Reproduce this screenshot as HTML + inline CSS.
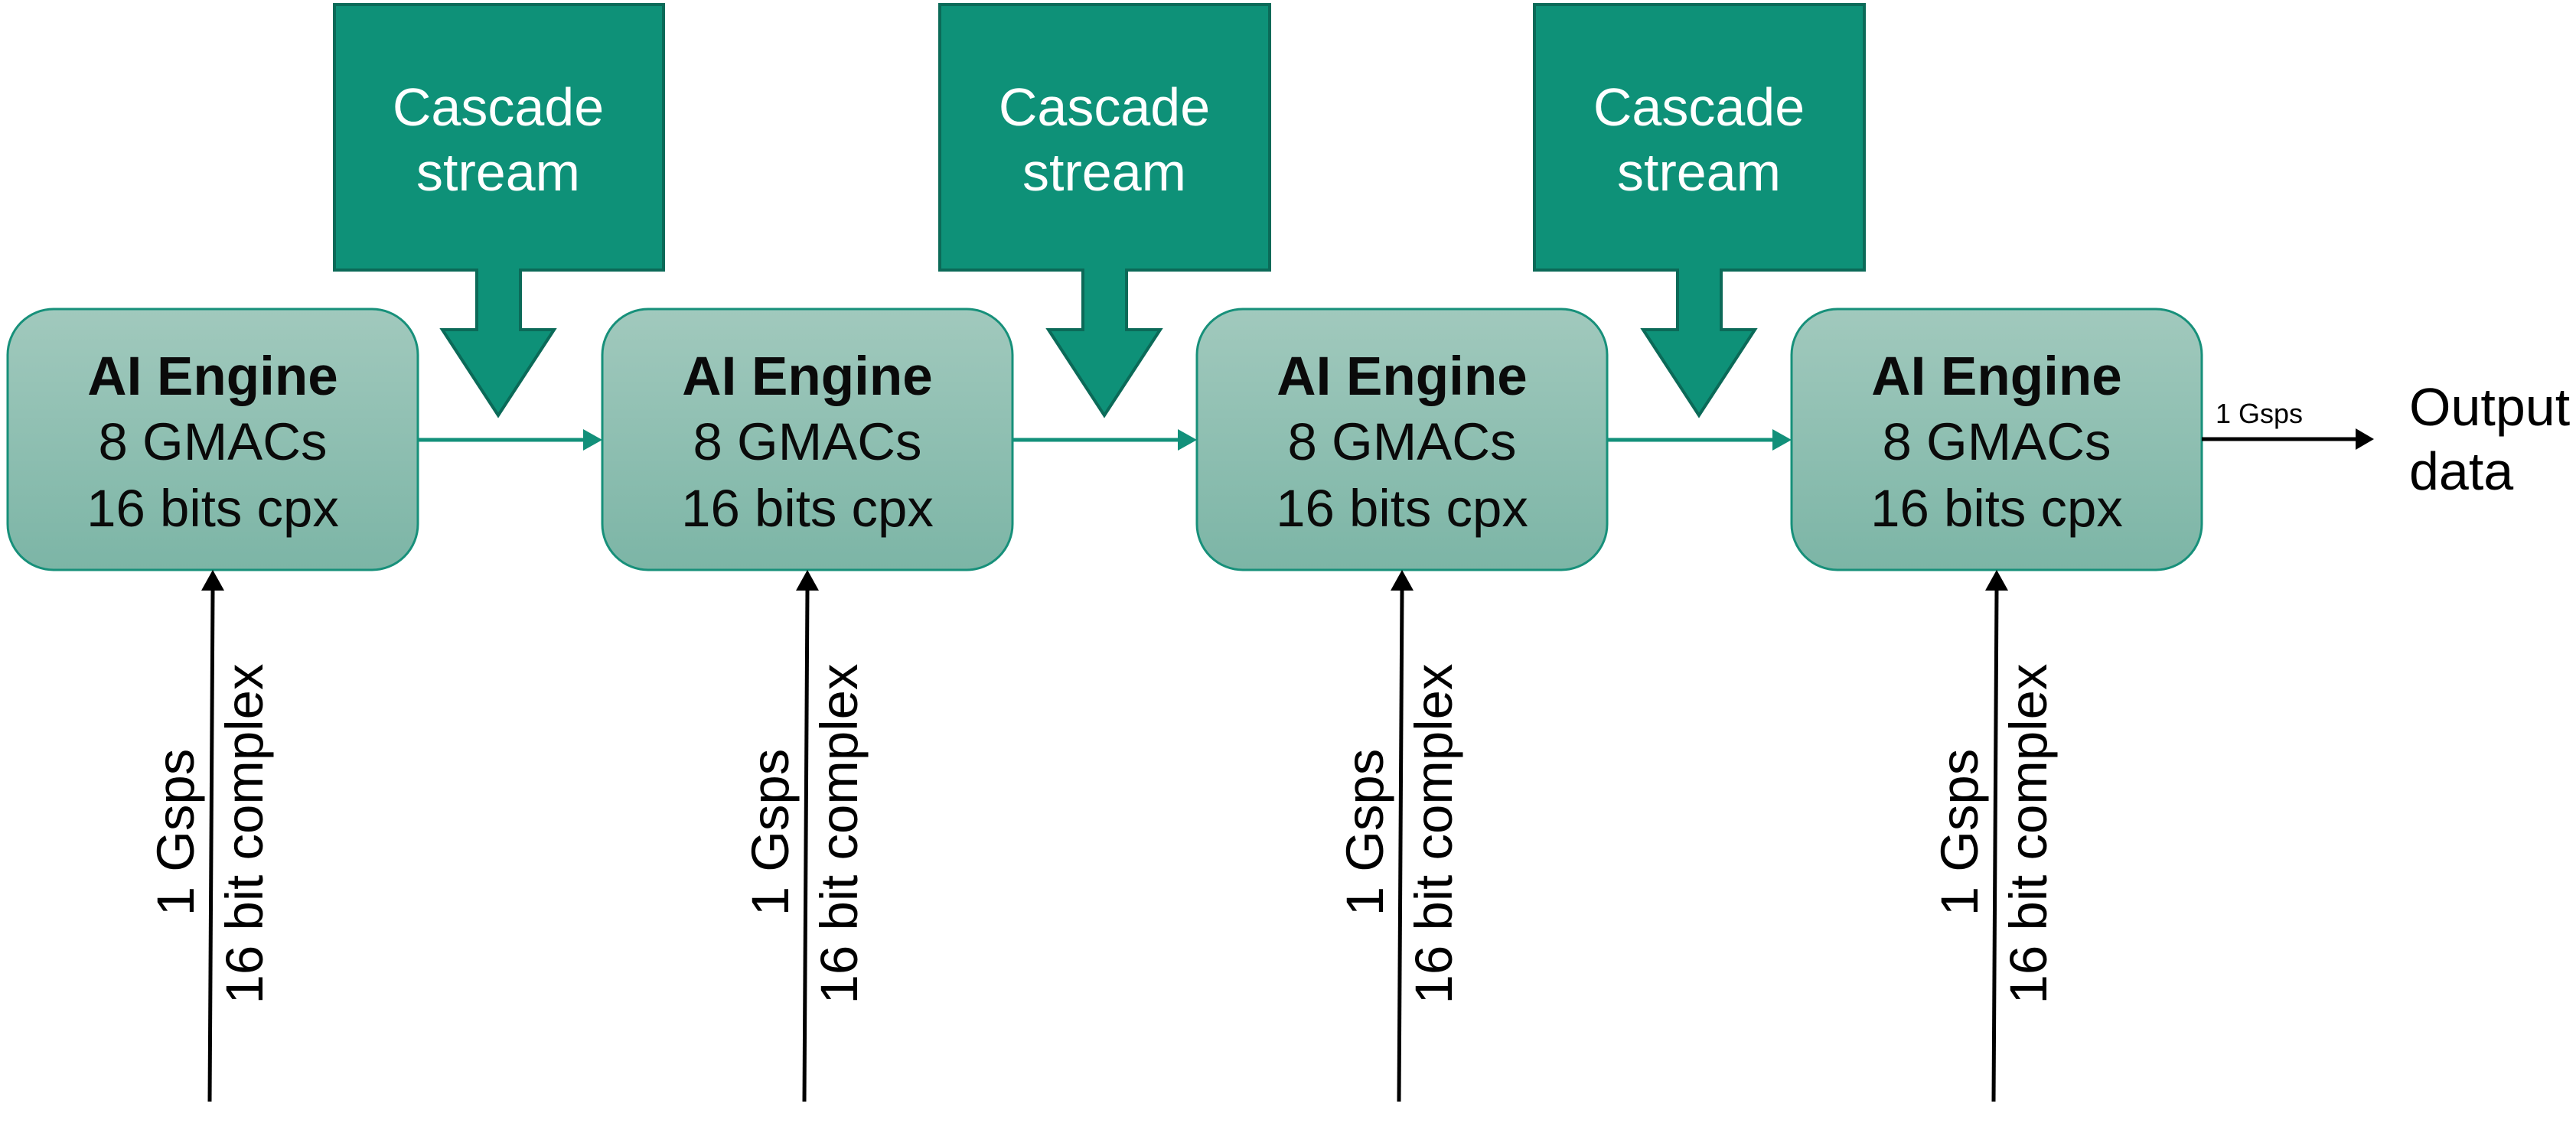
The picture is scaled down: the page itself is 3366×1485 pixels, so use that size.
<!DOCTYPE html>
<html><head><meta charset="utf-8"><style>html,body{margin:0;padding:0;background:#fff}svg{display:block}</style></head>
<body>
<svg width="3366" height="1485" viewBox="0 0 3366 1485" xmlns="http://www.w3.org/2000/svg" font-family="Liberation Sans, Arial, sans-serif">
<defs>
<linearGradient id="g" x1="0" y1="0" x2="0" y2="1"><stop offset="0" stop-color="#a1c9bd"/><stop offset="1" stop-color="#7cb5a6"/></linearGradient>
</defs>
<g fill="#0e9178" stroke="#0b6a58" stroke-width="4">
<path d="M437,6 H867 V353 H680 V431 H724 L651,543 L578,431 H623 V353 H437 Z"/>
<path d="M1228,6 H1659 V353 H1472 V431 H1516 L1443,543 L1370,431 H1415 V353 H1228 Z"/>
<path d="M2005,6 H2436 V353 H2249 V431 H2293 L2220,543 L2147,431 H2192 V353 H2005 Z"/>
</g>
<g fill="#fff" font-size="70" text-anchor="middle">
<text x="651" y="164">Cascade</text><text x="651" y="249">stream</text>
<text x="1443" y="164">Cascade</text><text x="1443" y="249">stream</text>
<text x="2220" y="164">Cascade</text><text x="2220" y="249">stream</text>
</g>
<g fill="url(#g)" stroke="#17907a" stroke-width="3">
<rect x="10" y="404" width="536" height="341" rx="60"/>
<rect x="787" y="404" width="536" height="341" rx="60"/>
<rect x="1564" y="404" width="536" height="341" rx="60"/>
<rect x="2341" y="404" width="536" height="341" rx="60"/>
</g>
<g fill="#0a0a0a" font-size="69" text-anchor="middle">
<g transform="translate(278,0)"><text y="516" font-weight="bold" font-size="71">AI Engine</text><text y="601">8 GMACs</text><text y="688">16 bits cpx</text></g>
<g transform="translate(1055,0)"><text y="516" font-weight="bold" font-size="71">AI Engine</text><text y="601">8 GMACs</text><text y="688">16 bits cpx</text></g>
<g transform="translate(1832,0)"><text y="516" font-weight="bold" font-size="71">AI Engine</text><text y="601">8 GMACs</text><text y="688">16 bits cpx</text></g>
<g transform="translate(2609,0)"><text y="516" font-weight="bold" font-size="71">AI Engine</text><text y="601">8 GMACs</text><text y="688">16 bits cpx</text></g>
</g>
<g stroke="#12907a" stroke-width="5">
<line x1="546" y1="575" x2="770" y2="575"/><path d="M762,561 L787,575 L762,589 z" fill="#12907a" stroke="none"/>
<line x1="1323" y1="575" x2="1547" y2="575"/><path d="M1539,561 L1564,575 L1539,589 z" fill="#12907a" stroke="none"/>
<line x1="2100" y1="575" x2="2324" y2="575"/><path d="M2316,561 L2341,575 L2316,589 z" fill="#12907a" stroke="none"/>
</g>
<line x1="2877" y1="574" x2="3085" y2="574" stroke="#000" stroke-width="5"/>
<path d="M3078,560 L3102,574 L3078,588 z" fill="#000"/>
<text x="2895" y="553" font-size="36">1 Gsps</text>
<text x="3148" y="556" font-size="70">Output</text>
<text x="3148" y="640" font-size="70">data</text>
<g stroke="#000" stroke-width="5">
<line x1="274" y1="1440" x2="278" y2="770"/><line x1="1051" y1="1440" x2="1055" y2="770"/><line x1="1828" y1="1440" x2="1832" y2="770"/><line x1="2605" y1="1440" x2="2609" y2="770"/>
</g>
<g fill="#000">
<path d="M263,772 L278,745 L293,772 z"/><path d="M1040,772 L1055,745 L1070,772 z"/><path d="M1817,772 L1832,745 L1847,772 z"/><path d="M2594,772 L2609,745 L2624,772 z"/>
</g>
<g font-size="69" text-anchor="middle" fill="#000">
<text transform="translate(253,1088) rotate(-90)">1 Gsps</text><text transform="translate(343,1090) rotate(-90)">16 bit complex</text>
<text transform="translate(1030,1088) rotate(-90)">1 Gsps</text><text transform="translate(1120,1090) rotate(-90)">16 bit complex</text>
<text transform="translate(1807,1088) rotate(-90)">1 Gsps</text><text transform="translate(1897,1090) rotate(-90)">16 bit complex</text>
<text transform="translate(2584,1088) rotate(-90)">1 Gsps</text><text transform="translate(2674,1090) rotate(-90)">16 bit complex</text>
</g>
</svg>
</body></html>
